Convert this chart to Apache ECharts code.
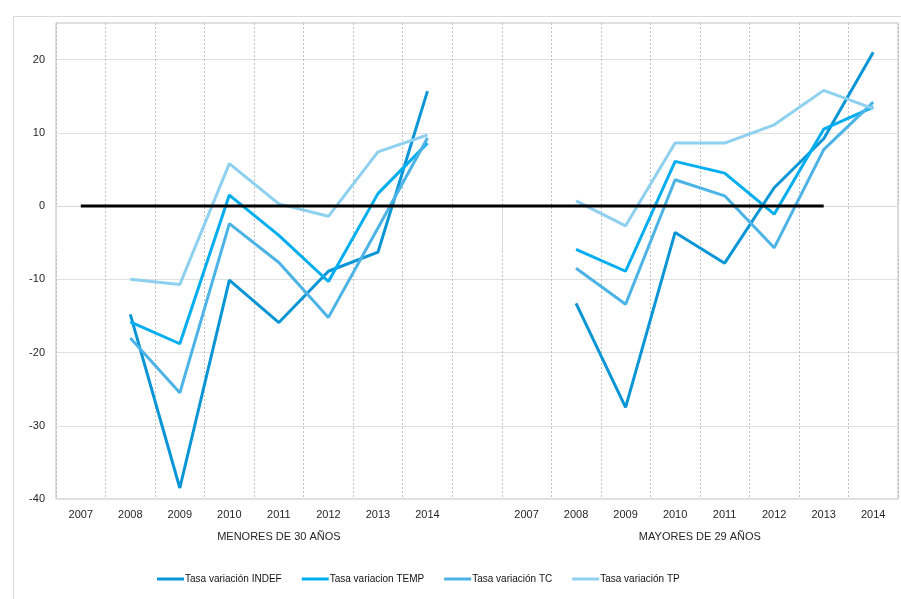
<!DOCTYPE html>
<html>
<head>
<meta charset="utf-8">
<script src="https://cdn.jsdelivr.net/npm/echarts@6/dist/echarts.min.js"></script>
<style>
html,body{margin:0;padding:0;background:#fff;}
#chart{width:901px;height:599px;}
</style>
</head>
<body>
<div id="chart"></div>
<script>
// ---- data ----
var categories = ['2007','2008','2009','2010','2011','2012','2013','2014','',
                  '2007','2008','2009','2010','2011','2012','2013','2014'];
var groupLabels = ['MENORES DE 30 AÑOS', 'MAYORES DE 29 AÑOS'];
var seriesNames = ['Tasa variación INDEF', 'Tasa variacion TEMP', 'Tasa variación TC', 'Tasa variación TP'];
var indef = [null,-14.8,-38.5,-10.1,-15.9,-8.9,-6.3,15.7,null,null,-13.3,-27.5,-3.6,-7.8,2.5,9.2,21.0];
var temp  = [null,-15.8,-18.8,1.5,-4.0,-10.3,1.7,8.6,null,null,-5.9,-8.9,6.1,4.5,-1.1,10.5,13.5];
var tc    = [null,-18.0,-25.5,-2.4,-7.7,-15.2,-3.0,9.3,null,null,-8.5,-13.4,3.6,1.4,-5.7,7.7,14.2];
var tp    = [null,-10.0,-10.7,5.8,0.3,-1.4,7.4,9.7,null,null,0.7,-2.7,8.6,8.6,11.1,15.8,13.3];
var zeroLine = [0,0,0,0,0,0,0,0,0,0,0,0,0,0,0,0,null];
var yTicks = [-40,-30,-20,-10,0,10,20];

var colors = ['#0A96D6', '#00AEEF', '#4CB3E6', '#8ED0F0'];
var FONT = "'Liberation Sans',Arial,sans-serif";

var chart = echarts.init(document.getElementById('chart'), null, {renderer:'canvas'});

function lineSeries(name, data, color) {
  return {
    name: name, type: 'line', data: data, symbol: 'none', connectNulls: false,
    lineStyle: {color: color, width: 3}, itemStyle: {color: color},
    emphasis: {disabled: true}, animation: false, z: 3
  };
}

var option = {
  animation: false,
  textStyle: {fontFamily: FONT},
  graphic: [{
    type: 'rect', left: 11, top: 14, z: -10,
    shape: {width: 900, height: 584},
    style: {fill: 'none', stroke: '#d9d9d9', lineWidth: 1}
  }],
  grid: {left: 56, right: 3, top: 23, bottom: 100, show: true,
         borderColor: '#bfbfbf', borderWidth: 1, containLabel: false},
  legend: {
    data: seriesNames, left: 152, top: 569, icon: 'rect',
    itemWidth: 27, itemHeight: 3, itemGap: 20,
    textStyle: {fontFamily: FONT, fontSize: 10, color: '#111', padding: [0,0,0,-4]},
    selectedMode: false
  },
  xAxis: [{
    type: 'category', data: categories, boundaryGap: true, position: 'bottom',
    axisLine: {show: true, lineStyle: {color: '#d9d9d9', width: 1}},
    axisTick: {show: true, length: 46, lineStyle: {color: '#d9d9d9'},
               interval: function (idx) { return idx === 0 || idx === 9; }},
    axisLabel: {interval: 0, margin: 10, fontSize: 11, color: '#262626', fontFamily: FONT},
    splitLine: {show: true, interval: 0, lineStyle: {color: '#bfbfbf', type: [2,2], width: 1}}
  }, {
    type: 'value', min: 0, max: 17, interval: 0.5, position: 'bottom', offset: 26,
    axisLine: {show: false}, axisTick: {show: false}, splitLine: {show: false},
    axisLabel: {margin: 6, fontSize: 11, color: '#262626', fontFamily: FONT,
      showMinLabel: true, showMaxLabel: true,
      formatter: function (v) {
        if (Math.abs(v - 4.5) < 1e-6) return groupLabels[0];
        if (Math.abs(v - 13) < 1e-6) return groupLabels[1];
        return '';
      }}
  }],
  yAxis: {
    type: 'value', min: -40, max: 25, interval: 10,
    axisLine: {show: false}, axisTick: {show: false},
    axisLabel: {margin: 11, fontSize: 11, color: '#262626', fontFamily: FONT,
      formatter: function (v) { return yTicks.indexOf(v) >= 0 ? String(v) : ''; }},
    splitLine: {show: true, lineStyle: {color: '#e0e0e0', width: 1}}
  },
  series: [
    lineSeries(seriesNames[0], indef, colors[0]),
    lineSeries(seriesNames[1], temp, colors[1]),
    lineSeries(seriesNames[2], tc, colors[2]),
    lineSeries(seriesNames[3], tp, colors[3]),
    {name: 'cero', type: 'line', data: zeroLine, symbol: 'none',
     lineStyle: {color: '#000', width: 3}, itemStyle: {color: '#000'},
     emphasis: {disabled: true}, z: 4}
  ]
};
chart.setOption(option);
</script>
</body>
</html>
